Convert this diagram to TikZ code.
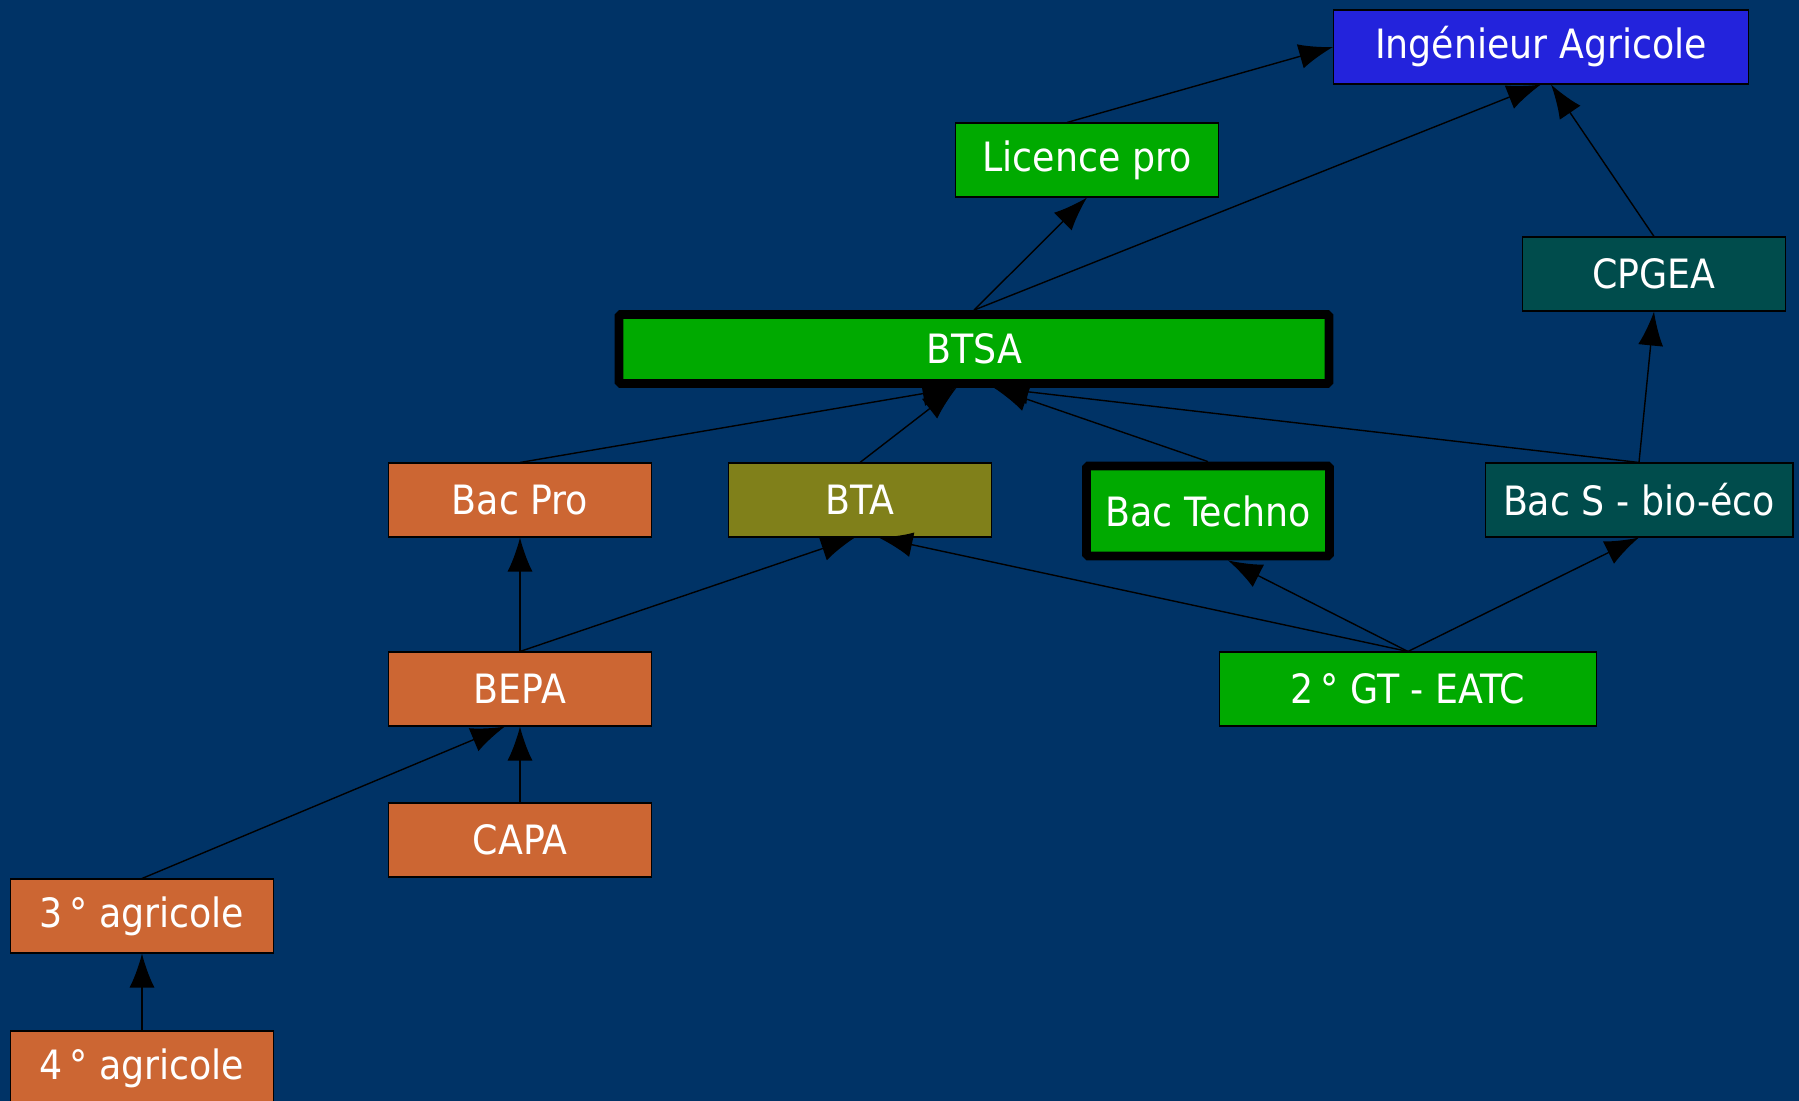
\documentclass[tikz,border=0pt]{standalone}
\usepackage{fontspec}
\setmainfont{DejaVu Sans Condensed}
\usetikzlibrary{arrows.meta}
\definecolor{fond}{RGB}{0,51,102}
\definecolor{brique}{RGB}{204,102,51}
\definecolor{vert}{RGB}{0,170,0}
\definecolor{olive}{RGB}{128,128,26}
\definecolor{canard}{RGB}{0,76,76}
\definecolor{bleu}{RGB}{35,35,220}
\tikzset{
  box/.style={draw=black,line width=0.6pt,text=white,minimum width=5.26cm,minimum height=1.48cm,
    inner sep=2pt,font=\fontsize{23}{27}\selectfont},
  bold box/.style={box,line width=5pt,rounded corners=1pt},
  arr/.style={-{Latex[length=0.68cm,width=0.5cm]},line width=0.8pt,black},
}

\begin{document}
\begin{tikzpicture}[x=0.02cm,y=-0.02cm]
      \fill[fond] (0,0) rectangle (1799,1101);
      \useasboundingbox (0,0) rectangle (1799,1101);

      % top
      \node[box,fill=bleu,minimum width=8.3cm] (ing) at (1541,47) {Ingénieur Agricole};
      \node[box,fill=vert] (licence) at (1087,160) {Licence pro};
      \node[box,fill=canard] (cpgea) at (1654,274) {CPGEA};
      \node[bold box,fill=vert,minimum width=14.2cm,minimum height=1.38cm] (btsa) at (974,349) {BTSA};

      % bacs
      \node[box,fill=brique] (bacpro) at (520,500) {Bac Pro};
      \node[box,fill=olive] (bta) at (860,500) {BTA};
      \node[bold box,fill=vert,minimum width=4.86cm,minimum height=1.8cm] (techno) at (1208,511) {Bac Techno};
      \node[box,fill=canard,minimum width=6.16cm] (bacs) at (1639,500) {Bac S - bio-éco};

      % bottom
      \node[box,fill=brique] (bepa) at (520,689) {BEPA};
      \node[box,fill=vert,minimum width=7.54cm] (gt) at (1408,689) {2\,°\ GT - EATC};
      \node[box,fill=brique] (capa) at (520,840) {CAPA};
      \node[box,fill=brique] (agr3) at (142,916) {3\,°\ agricole};
      \node[box,fill=brique] (agr4) at (142,1068) {4\,°\ agricole};

      \draw[arr] (agr4.north) -- (agr3.south);
      \draw[arr] (agr3.north) -- ([xshift=-0.3cm]bepa.south);
      \draw[arr] (capa.north) -- (bepa.south);
      \draw[arr] (bepa.north) -- (bacpro.south);
      \draw[arr] (bepa.north) -- ([xshift=-0.1cm]bta.south);

      \draw[arr] (gt.north) -- ([xshift=0.37cm]bta.south);
      \draw[arr] (gt.north) -- ([xshift=0.4cm]techno.south);
      \draw[arr] (gt.north) -- (bacs.south);

      \draw[arr] (bacpro.north) -- ([xshift=-0.35cm]btsa.south);
      \draw[arr] (bta.north) -- ([xshift=-0.35cm]btsa.south);
      \draw[arr] (techno.north) -- ([xshift=0.4cm]btsa.south);
      \draw[arr] (bacs.north) -- ([xshift=0.4cm]btsa.south);
      \draw[arr] (bacs.north) -- (cpgea.south);

      \draw[arr] (btsa.north) -- (licence.south);
      \draw[arr] (btsa.north) -- (ing.south);
      \draw[arr] (cpgea.north) -- ([xshift=0.2cm]ing.south);
      \draw[arr] ([xshift=-0.4cm]licence.north) -- (ing.west);
    \end{tikzpicture}
\end{document}
